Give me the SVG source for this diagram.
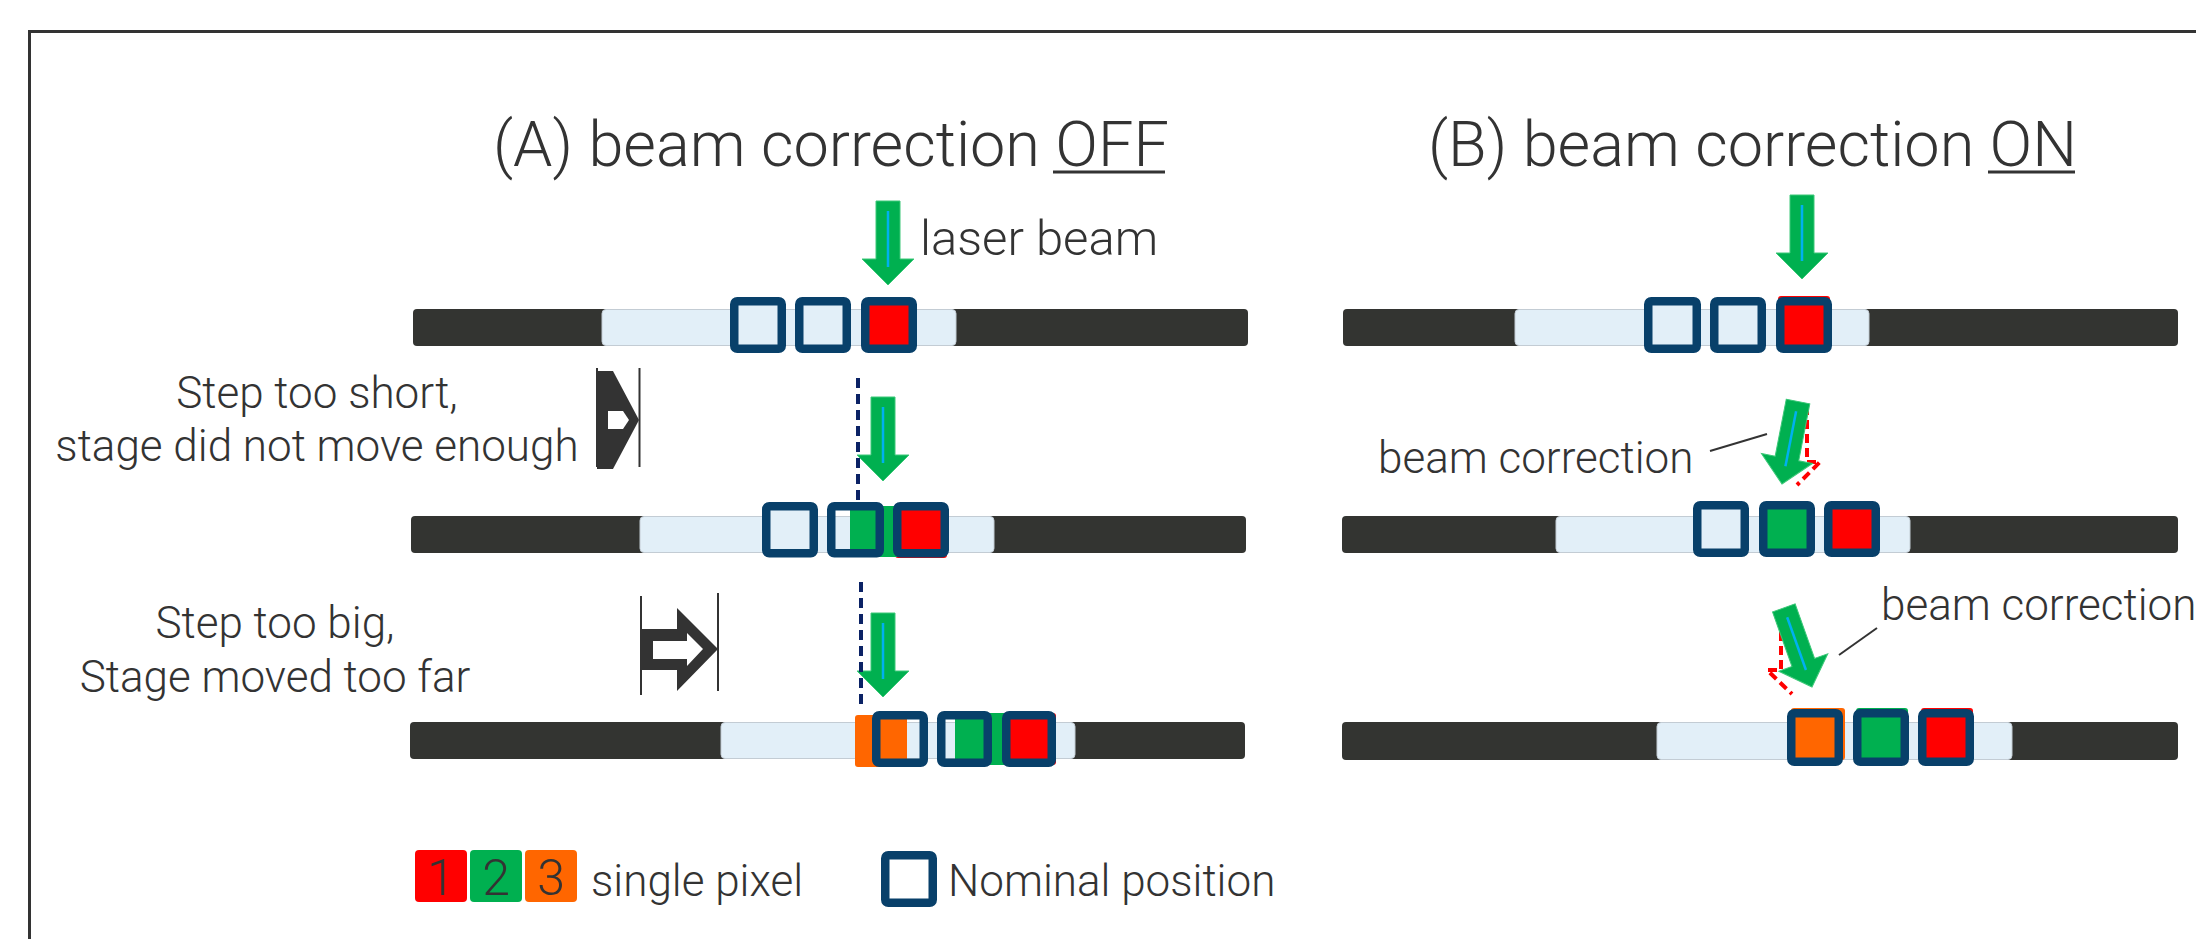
<svg xmlns="http://www.w3.org/2000/svg" width="2196" height="939" viewBox="0 0 2196 939">
<defs>
<style>
.t{font-family:Roboto,"Liberation Sans",sans-serif;font-weight:300;fill:#333333}
.bar{fill:#333431}
.lt{fill:#e2eff8;stroke:#c3ccd4;stroke-width:1}
.box{fill:none;stroke:#08406a;stroke-width:8.5}
.boxw{fill:#e2eff8;stroke:#08406a;stroke-width:8.5}
.px{stroke:none}
.r{fill:#ff0000}.g{fill:#00b050}.o{fill:#ff6600}
.dash{stroke:#0b2265;stroke-width:4;stroke-dasharray:10 6;fill:none}
.rd{fill:none;stroke:#ff0000;stroke-width:4;stroke-dasharray:9 5}
.lead{stroke:#333333;stroke-width:2;fill:none}
.vb{stroke:#333333;stroke-width:2}
</style>
<g id="beam">
<polygon points="-12,-84 12,-84 12,-26 26,-26 0,0 -26,-26 -12,-26" fill="#00b050" stroke="#3cc878" stroke-width="1"/>
<line x1="0" y1="-74" x2="0" y2="-18" stroke="#00b0f0" stroke-width="2.5"/>
</g>
</defs>
<rect x="0" y="0" width="2196" height="939" fill="#ffffff"/>
<rect id="frame" x="29.5" y="31.5" width="2300" height="1000" fill="none" stroke="#333333" stroke-width="3"/>

<g id="titleA"><text class="t" x="493" y="166" font-size="63">(A) beam correction OFF</text><line x1="1053" y1="172" x2="1165" y2="172" stroke="#333333" stroke-width="3"/></g>
<g id="titleB"><text class="t" x="1428" y="166" font-size="63">(B) beam correction ON</text><line x1="1988" y1="172" x2="2075" y2="172" stroke="#333333" stroke-width="3"/></g>

<!-- Panel A row 1 -->
<g id="A1">
<rect class="bar" x="413" y="309" width="835" height="37" rx="4"/>
<rect class="lt" x="602" y="309.5" width="354" height="36" rx="4"/>
<rect class="px r" x="863" y="299" width="52" height="52" rx="3"/>
<rect class="boxw" x="734.25" y="301.25" width="47.5" height="47.5" rx="3"/>
<rect class="boxw" x="799.25" y="301.25" width="47.5" height="47.5" rx="3"/>
<rect class="box" x="865.25" y="301.25" width="47.5" height="47.5" rx="3"/>
<use href="#beam" transform="translate(888,285)"/>
<text class="t" x="920" y="255" font-size="49">laser beam</text>
</g>

<!-- Panel A row 2 -->
<g id="A2">
<rect class="bar" x="411" y="516" width="835" height="37" rx="4"/>
<rect class="lt" x="640" y="516.5" width="354" height="36" rx="4"/>
<rect class="px r" x="895" y="505" width="52" height="53" rx="3"/>
<rect class="px g" x="850" y="506" width="50" height="51" rx="3"/>
<rect class="boxw" x="766.25" y="506.25" width="47.5" height="47" rx="3"/>
<rect class="box" x="831.25" y="506.25" width="48.5" height="47" rx="3"/>
<rect class="box" x="897.25" y="506.25" width="47.5" height="47" rx="3"/>
<use href="#beam" transform="translate(883,481)"/>
</g>
<g id="A2label">
<text class="t" x="317" y="408" font-size="44" text-anchor="middle">Step too short,</text>
<text class="t" x="317" y="461" font-size="44" text-anchor="middle">stage did not move enough</text>
<line class="vb" x1="597" y1="368" x2="597" y2="467"/>
<line class="vb" x1="639.5" y1="368" x2="639.5" y2="467"/>
<polygon points="597,371 613,371 639,420 613,469 597,469" fill="#333333"/>
<polygon points="608,411 623,411 629,420 623,429 608,429" fill="#ffffff"/>
</g>

<!-- Panel A row 3 -->
<g id="A3">
<rect class="bar" x="410" y="722" width="835" height="37" rx="4"/>
<rect class="lt" x="721" y="722.5" width="354" height="36" rx="4"/>
<rect class="px o" x="855" y="715" width="52" height="52" rx="3"/>
<rect class="px g" x="955" y="713" width="52" height="52" rx="3"/>
<rect class="px r" x="1004" y="713" width="52" height="52" rx="3"/>
<rect class="box" x="876.25" y="715.25" width="47.5" height="47.5" rx="3"/>
<rect class="box" x="941.25" y="715.25" width="46.5" height="47.5" rx="3"/>
<rect class="box" x="1006.25" y="715.25" width="45.5" height="47.5" rx="3"/>
<use href="#beam" transform="translate(883,697)"/>
</g>
<g id="A3label">
<text class="t" x="275" y="638" font-size="44" text-anchor="middle">Step too big,</text>
<text class="t" x="275" y="692" font-size="44" text-anchor="middle">Stage moved too far</text>
<line class="vb" x1="641" y1="596" x2="641" y2="695"/>
<line class="vb" x1="718" y1="593" x2="718" y2="691"/>
<polygon points="641,629 677,629 677,608 718,649 677,691 677,670 641,670" fill="#333333"/>
<polygon points="653,641 687,641 687,633 703,649 687,666 687,659 653,659" fill="#ffffff"/>
</g>

<!-- Panel B row 1 -->
<g id="B1">
<rect class="bar" x="1343" y="309" width="835" height="37" rx="4"/>
<rect class="lt" x="1515" y="309.5" width="354" height="36" rx="4"/>
<rect class="px r" x="1778" y="296" width="52" height="52" rx="3"/>
<rect class="boxw" x="1648.25" y="301.25" width="48.5" height="47.5" rx="3"/>
<rect class="boxw" x="1714.25" y="301.25" width="47.5" height="47.5" rx="3"/>
<rect class="box" x="1780.25" y="301.25" width="47.5" height="47.5" rx="3"/>
<use href="#beam" transform="translate(1802,279)"/>
</g>

<!-- Panel B row 2 -->
<g id="B2">
<rect class="bar" x="1342" y="516" width="836" height="37" rx="4"/>
<rect class="lt" x="1556" y="516.5" width="354" height="36" rx="4"/>
<rect class="px g" x="1761" y="503" width="52" height="52" rx="3"/>
<rect class="px r" x="1826" y="503" width="52" height="52" rx="3"/>
<rect class="boxw" x="1697.25" y="505.25" width="47.5" height="47.5" rx="3"/>
<rect class="box" x="1763.25" y="505.25" width="47.5" height="47.5" rx="3"/>
<rect class="box" x="1828.25" y="505.25" width="47.5" height="47.5" rx="3"/>
<polyline class="rd" points="1807,406 1807,462 1820,462 1797,485"/>
<use href="#beam" transform="translate(1782,484) rotate(11)"/>
<text class="t" x="1378" y="473" font-size="44">beam correction</text>
</g>

<!-- Panel B row 3 -->
<g id="B3">
<rect class="bar" x="1342" y="722" width="836" height="38" rx="4"/>
<rect class="lt" x="1657" y="722.5" width="355" height="37" rx="4"/>
<rect class="px o" x="1791" y="708" width="54" height="52" rx="3"/>
<rect class="px g" x="1856" y="708" width="52" height="52" rx="3"/>
<rect class="px r" x="1921" y="708" width="52" height="52" rx="3"/>
<rect class="box" x="1791.25" y="713.25" width="47.5" height="48.5" rx="3"/>
<rect class="box" x="1857.25" y="713.25" width="47.5" height="48.5" rx="3"/>
<rect class="box" x="1922.25" y="713.25" width="47.5" height="48.5" rx="3"/>
<polyline class="rd" points="1781,618 1781,670 1767,670 1792,694"/>
<use href="#beam" transform="translate(1812,687) rotate(-19.6)"/>
<text class="t" x="1881" y="620" font-size="44">beam correction</text>
</g>

<g id="connectors">
<line class="dash" x1="858" y1="378" x2="858" y2="500"/>
<line class="dash" x1="861" y1="582" x2="861" y2="706"/>
<line class="lead" x1="1710" y1="451" x2="1767" y2="434"/>
<line class="lead" x1="1839" y1="655" x2="1877" y2="628"/>
</g>

<g id="legend">
<rect class="r" x="415" y="850" width="52" height="52" rx="4"/>
<rect class="g" x="470" y="850" width="52" height="52" rx="4"/>
<rect class="o" x="525" y="850" width="52" height="52" rx="4"/>
<text class="t" x="441" y="895" font-size="50" text-anchor="middle">1</text>
<text class="t" x="496" y="895" font-size="50" text-anchor="middle">2</text>
<text class="t" x="551" y="895" font-size="50" text-anchor="middle">3</text>
<text class="t" x="591" y="896" font-size="44">single pixel</text>
<rect class="boxw" x="885.25" y="855.25" width="47.5" height="47.5" rx="3" style="fill:#ffffff"/>
<text class="t" x="948" y="896" font-size="44">Nominal position</text>
</g>
</svg>
